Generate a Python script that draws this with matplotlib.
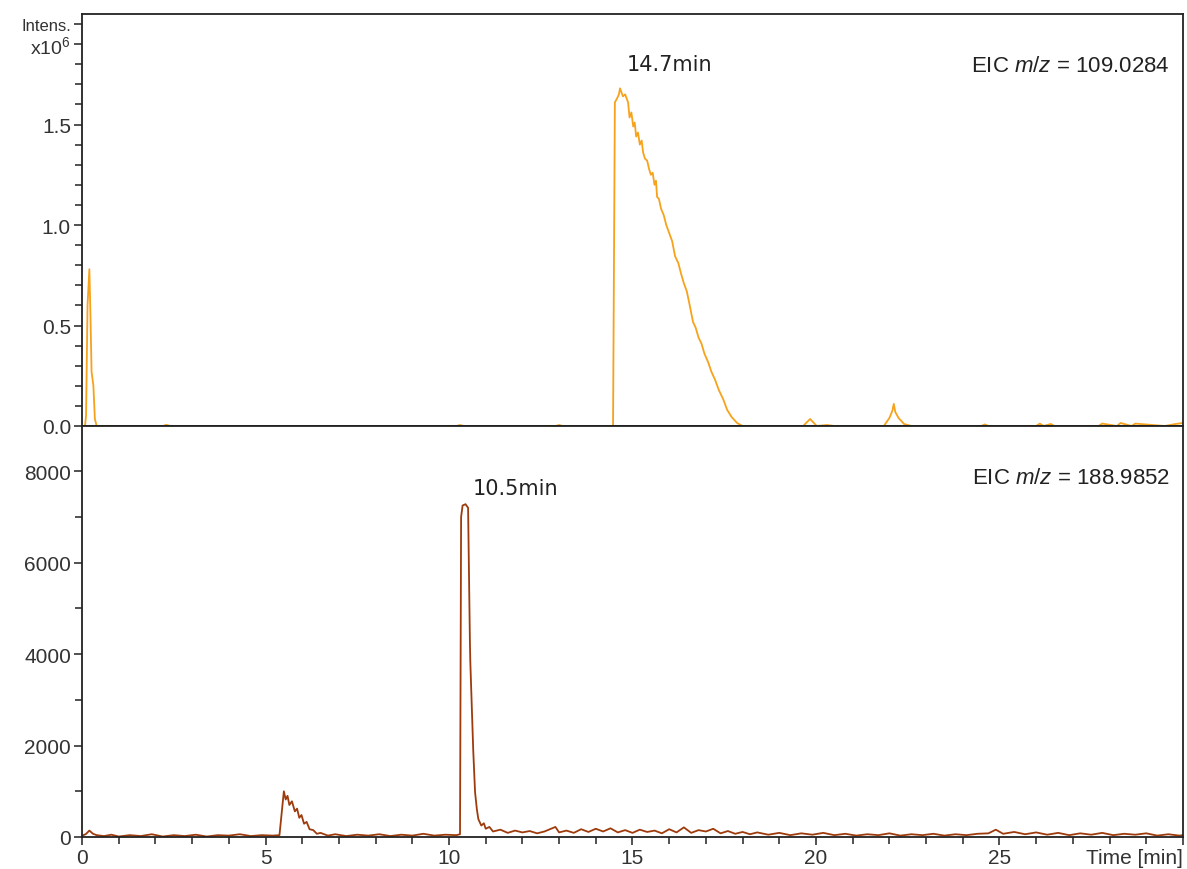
import numpy as np
import matplotlib.pyplot as plt
from matplotlib.ticker import MultipleLocator

plt.rcParams['font.family'] = ['Liberation Sans', 'DejaVu Sans']
plt.rcParams['mathtext.fontset'] = 'custom'
plt.rcParams['mathtext.it'] = 'Liberation Sans:italic'
plt.rcParams['mathtext.rm'] = 'Liberation Sans'

# EIC m/z 109.0284 (intensity x10^6)
top_time = [0.00, 0.08, 0.11, 0.15, 0.20, 0.23, 0.26, 0.31, 0.35, 0.40, 0.50,
            2.20, 2.30, 2.40, 10.20, 10.30, 10.40, 12.90, 13.00, 13.10,
            14.40, 14.47, 14.52, 14.58, 14.63, 14.66, 14.70, 14.74, 14.80, 14.88,
            14.92, 14.97, 15.02, 15.06, 15.10, 15.15, 15.20, 15.25, 15.29, 15.34,
            15.40, 15.45, 15.50, 15.55, 15.60, 15.64, 15.67, 15.72, 15.78, 15.85,
            15.92, 16.00, 16.08, 16.16, 16.25, 16.32, 16.40, 16.48, 16.56, 16.65,
            16.72, 16.80, 16.88, 16.96, 17.06, 17.15, 17.25, 17.35, 17.47, 17.58,
            17.70, 17.85, 18.00, 19.65, 19.84, 20.02, 20.30, 20.50,
            21.85, 22.00, 22.08, 22.12, 22.16, 22.25, 22.40, 22.60,
            24.50, 24.60, 24.70, 26.00, 26.10, 26.20, 26.40, 26.50,
            27.70, 27.80, 28.20, 28.30, 28.60, 28.70, 29.50, 29.80, 30.00]
top_int = [0.0, 0.0, 0.05, 0.60, 0.78, 0.55, 0.27, 0.20, 0.035, 0.0, 0.0,
           0.0, 0.006, 0.0, 0.0, 0.005, 0.0, 0.0, 0.005, 0.0,
           0.0, 0.0, 1.61, 1.63, 1.65, 1.68, 1.66, 1.64, 1.65, 1.61,
           1.535, 1.56, 1.49, 1.51, 1.44, 1.46, 1.40, 1.42, 1.36, 1.33,
           1.32, 1.28, 1.25, 1.26, 1.20, 1.22, 1.14, 1.13, 1.08, 1.05,
           1.00, 0.96, 0.92, 0.845, 0.81, 0.76, 0.71, 0.67, 0.60, 0.517,
           0.49, 0.44, 0.41, 0.36, 0.318, 0.27, 0.23, 0.18, 0.134, 0.08,
           0.045, 0.015, 0.0, 0.0, 0.035, 0.0, 0.005, 0.0,
           0.0, 0.04, 0.075, 0.11, 0.07, 0.04, 0.01, 0.0,
           0.0, 0.008, 0.0, 0.0, 0.012, 0.0, 0.01, 0.0,
           0.0, 0.012, 0.0, 0.015, 0.0, 0.012, 0.0, 0.01, 0.015]

# EIC m/z 188.9852
bot_time = [0.0, 0.1, 0.2, 0.3, 0.4, 0.6, 0.8, 1.0, 1.3, 1.6, 1.9, 2.2, 2.5, 2.8,
            3.1, 3.4, 3.7, 4.0, 4.3, 4.6, 4.9, 5.2, 5.38, 5.45, 5.50, 5.55, 5.60,
            5.65, 5.72, 5.80, 5.86, 5.92, 5.98, 6.05, 6.12, 6.2, 6.3, 6.4, 6.5,
            6.7, 6.9, 7.2, 7.5, 7.8, 8.1, 8.4, 8.7, 9.0, 9.3, 9.6, 9.9, 10.2, 10.3,
            10.33, 10.37, 10.45, 10.52, 10.57, 10.58, 10.62, 10.66, 10.71, 10.76,
            10.8, 10.88, 10.95, 11.0, 11.1, 11.2, 11.4, 11.6, 11.8, 12.0, 12.2,
            12.4, 12.6, 12.9, 13.0, 13.2, 13.4, 13.6, 13.8, 14.0, 14.2, 14.4,
            14.6, 14.8, 15.0, 15.2, 15.4, 15.6, 15.8, 16.0, 16.2, 16.4, 16.6,
            16.8, 17.0, 17.2, 17.4, 17.6, 17.8, 18.0, 18.2, 18.4, 18.7, 19.0,
            19.3, 19.6, 19.9, 20.2, 20.5, 20.8, 21.1, 21.4, 21.7, 22.0, 22.3,
            22.6, 22.9, 23.2, 23.5, 23.8, 24.1, 24.4, 24.7, 24.9, 25.1, 25.4,
            25.7, 26.0, 26.3, 26.6, 26.9, 27.2, 27.5, 27.8, 28.1, 28.4, 28.7,
            29.0, 29.3, 29.6, 29.9, 30.0]
bot_int = [30, 60, 140, 70, 40, 20, 50, 10, 40, 20, 60, 10, 40, 20,
           50, 10, 40, 30, 60, 20, 40, 30, 40, 600, 1000, 820, 900,
           700, 780, 560, 620, 420, 480, 290, 330, 170, 150, 70, 90,
           30, 60, 20, 50, 30, 60, 20, 50, 30, 70, 30, 50, 40, 60,
           7000, 7250, 7280, 7200, 4250, 3850, 2850, 1900, 980, 600,
           390, 250, 300, 180, 220, 120, 160, 90, 140, 100, 130,
           80, 120, 220, 100, 140, 90, 170, 110, 180, 120, 190,
           100, 150, 90, 160, 110, 140, 80, 170, 100, 210, 90,
           150, 120, 180, 80, 130, 70, 110, 60, 100, 50, 90,
           40, 80, 50, 90, 40, 70, 30, 60, 40, 80, 30,
           60, 40, 70, 30, 60, 40, 70, 80, 160, 70, 110,
           60, 100, 50, 90, 40, 80, 50, 90, 40, 70, 50,
           80, 30, 60, 30, 40]

fig = plt.figure(figsize=(11.87, 8.70), dpi=100)
ax1 = fig.add_axes([0.0691, 0.5092, 0.9275, 0.4736])
ax2 = fig.add_axes([0.0691, 0.0368, 0.9275, 0.4724], sharex=ax1)

ax1.plot(top_time, top_int, color='#F7A21B', lw=1.3)
ax1.axhline(0, color='#3a2a10', lw=2.0, zorder=1)
ax2.plot(bot_time, bot_int, color='#9E3B0C', lw=1.3)

ax1.set_xlim(0, 30)
ax1.set_ylim(0, 2.05)
ax2.set_ylim(0, 8990)

for ax in (ax1, ax2):
    for s in ax.spines.values():
        s.set_linewidth(1.3)
        s.set_color('#222222')
    ax.tick_params(direction='out', length=6, width=1.1, labelsize=15, pad=2,
                   color='#222222', labelcolor='#333333')
    ax.tick_params(which='minor', direction='out', length=5, width=1.1, color='#222222')

# top panel y axis
ax1.set_yticks([0.0, 0.5, 1.0, 1.5, 1.9, 2.0])
ax1.set_yticklabels(['0.0', '0.5', '1.0', '1.5', 'x10$^6$', 'Intens.'])
ax1.yaxis.set_minor_locator(MultipleLocator(0.1))
ax1.get_yticklabels()[-1].set_fontsize(12)
ax1.get_yticklabels()[-2].set_fontsize(14)
ax1.tick_params(axis='x', which='both', bottom=False, labelbottom=False)

# bottom panel
ax2.set_yticks([0, 2000, 4000, 6000, 8000])
ax2.yaxis.set_minor_locator(MultipleLocator(1000))
ax2.set_xticks([0, 5, 10, 15, 20, 25, 30])
ax2.set_xticklabels(['0', '5', '10', '15', '20', '25', 'Time [min]'])
ax2.get_xticklabels()[-1].set_horizontalalignment('right')
ax2.xaxis.set_minor_locator(MultipleLocator(1))

ax1.text(14.85, 1.80, '14.7min', fontsize=15, family='DejaVu Sans', color='#222222',
         ha='left', va='center')
ax2.text(10.65, 7630, '10.5min', fontsize=15, family='DejaVu Sans', color='#222222',
         ha='left', va='center')
ax1.text(0.988, 0.875, 'EIC $\\it{m/z}$ = 109.0284', transform=ax1.transAxes,
         fontsize=16, ha='right', va='center', color='#222222')
ax2.text(0.988, 0.875, 'EIC $\\it{m/z}$ = 188.9852', transform=ax2.transAxes,
         fontsize=16, ha='right', va='center', color='#222222')

fig.savefig('out.png', dpi=100)
